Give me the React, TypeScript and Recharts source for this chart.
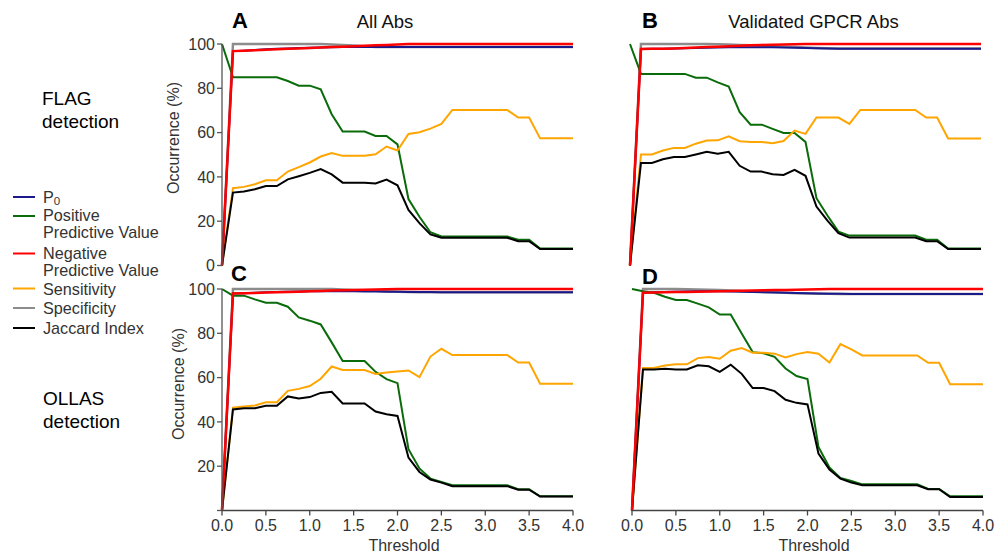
import React from "react";
import { LineChart, Line, XAxis, YAxis } from "recharts";

const thresholds = [0, 0.125, 0.25, 0.375, 0.5, 0.625, 0.75, 0.875, 1, 1.125, 1.25, 1.375, 1.5, 1.625, 1.75, 1.875, 2, 2.125, 2.25, 2.375, 2.5, 2.625, 2.75, 2.875, 3, 3.125, 3.25, 3.375, 3.5, 3.625, 3.75, 3.875, 4];
const xTicks = [0, 0.5, 1, 1.5, 2, 2.5, 3, 3.5, 4];
const yTicks = [0, 20, 40, 60, 80, 100];

// Panel A: FLAG detection, All Abs
const aP0 = [0, 96.8, 97.0, 97.3, 97.6, 97.8, 98.0, 98.2, 98.3, 98.4, 98.5, 98.6, 98.6, 98.6, 98.6, 98.6, 98.6, 98.6, 98.6, 98.6, 98.6, 98.6, 98.6, 98.6, 98.6, 98.6, 98.6, 98.6, 98.6, 98.6, 98.6, 98.6, 98.6];
const aPpv = [100, 85, 85, 85, 85, 85, 83.3, 81.2, 81.2, 79.5, 68.3, 60.5, 60.5, 60.5, 58.5, 58.5, 54.7, 30, 22, 15, 13.1, 13.1, 13.1, 13.1, 13.1, 13.1, 13.1, 11.6, 11.6, 7.7, 7.7, 7.7, 7.7];
const aNpv = [0, 96.8, 97.0, 97.2, 97.4, 97.6, 97.8, 98.0, 98.2, 98.4, 98.6, 98.8, 99.0, 99.2, 99.4, 99.6, 99.8, 100, 100, 100, 100, 100, 100, 100, 100, 100, 100, 100, 100, 100, 100, 100, 100];
const aSens = [0, 34.9, 35.5, 36.7, 38.5, 38.5, 42.4, 44.4, 46.5, 49.2, 50.8, 49.5, 49.5, 49.5, 50.2, 53.7, 51.9, 59.4, 60.2, 61.8, 63.9, 70.2, 70.2, 70.2, 70.2, 70.2, 70.2, 66.8, 66.8, 57.4, 57.4, 57.4, 57.4];
const aSpec = [0, 100, 100, 100, 100, 100, 100, 100, 100, 100, 99.8, 99.6, 99.3, 99.0, 98.7, 98.6, 98.6, 98.6, 98.6, 98.6, 98.6, 98.6, 98.6, 98.6, 98.6, 98.6, 98.6, 98.6, 98.6, 98.6, 98.6, 98.6, 98.6];
const aJac = [0, 32.9, 33.4, 34.4, 35.9, 35.9, 38.9, 40.3, 41.8, 43.5, 41.1, 37.4, 37.4, 37.4, 37.0, 38.8, 36.2, 25.1, 19.1, 14.0, 12.5, 12.5, 12.5, 12.5, 12.5, 12.5, 12.5, 11.0, 11.0, 7.4, 7.4, 7.4, 7.4];

// Panel B: FLAG detection, Validated GPCR Abs
const bP0 = [0, 97.7, 97.8, 97.9, 98.0, 98.1, 98.2, 98.3, 98.4, 98.5, 98.5, 98.5, 98.5, 98.5, 98.4, 98.3, 98.2, 98.1, 98.0, 97.9, 97.9, 97.9, 97.9, 97.9, 97.9, 97.9, 97.9, 97.9, 97.9, 97.9, 97.9, 97.9, 97.9];
const bPpv = [100, 86.5, 86.5, 86.5, 86.5, 86.5, 84.8, 84.8, 82.7, 80.8, 69.2, 63.6, 63.6, 61.7, 59.8, 59.8, 55.8, 30.4, 22.6, 15.3, 13.5, 13.5, 13.5, 13.5, 13.5, 13.5, 13.5, 11.6, 11.6, 7.7, 7.7, 7.7, 7.7];
const bNpv = [0, 97.7, 97.8, 97.9, 98.0, 98.2, 98.4, 98.6, 98.8, 99.0, 99.2, 99.4, 99.6, 99.7, 99.8, 99.9, 100, 100, 100, 100, 100, 100, 100, 100, 100, 100, 100, 100, 100, 100, 100, 100, 100];
const bSens = [0, 50.1, 50.1, 51.9, 53.1, 53.1, 55.0, 56.4, 56.5, 58.3, 56.1, 55.8, 55.8, 55.2, 56.2, 60.9, 59.4, 66.8, 66.8, 66.8, 63.9, 70.2, 70.2, 70.2, 70.2, 70.2, 70.2, 66.8, 66.8, 57.3, 57.3, 57.3, 57.3];
const bSpec = [0, 100, 100, 100, 100, 100, 100, 100, 99.9, 99.8, 99.6, 99.4, 99.2, 99.0, 98.8, 98.6, 98.4, 98.2, 98.1, 98.0, 98.0, 98.0, 98.0, 98.0, 98.0, 98.0, 98.0, 98.0, 98.0, 98.0, 98.0, 98.0, 98.0];
const bJac = [0, 46.3, 46.3, 48.0, 49.0, 49.0, 50.1, 51.3, 50.5, 51.3, 45.0, 42.4, 42.4, 41.2, 40.9, 43.2, 40.5, 26.6, 20.3, 14.6, 12.6, 12.6, 12.6, 12.6, 12.6, 12.6, 12.6, 11.0, 11.0, 7.4, 7.4, 7.4, 7.4];

// Panel C: OLLAS detection, All Abs
const cP0 = [0, 98.0, 98.1, 98.3, 98.5, 98.7, 98.8, 98.9, 99.0, 99.0, 99.0, 99.0, 99.0, 98.9, 98.9, 98.8, 98.8, 98.7, 98.6, 98.6, 98.5, 98.5, 98.5, 98.5, 98.5, 98.5, 98.5, 98.5, 98.5, 98.5, 98.5, 98.5, 98.5];
const cPpv = [100, 97.0, 97.0, 95.3, 93.8, 93.8, 92.0, 87.2, 85.7, 84.0, 75.9, 67.5, 67.5, 67.5, 62.6, 59.3, 57.5, 27.7, 19.0, 14.4, 12.9, 11.4, 11.4, 11.4, 11.4, 11.4, 11.4, 9.6, 9.6, 6.4, 6.4, 6.4, 6.4];
const cNpv = [0, 98.0, 98.1, 98.2, 98.4, 98.5, 98.7, 98.8, 99.0, 99.1, 99.3, 99.4, 99.6, 99.7, 99.8, 99.9, 100, 100, 100, 100, 100, 100, 100, 100, 100, 100, 100, 100, 100, 100, 100, 100, 100];
const cSens = [0, 46.4, 47.0, 47.4, 48.9, 48.9, 54.0, 54.9, 56.2, 59.5, 65.0, 63.4, 63.4, 63.4, 61.6, 62.3, 62.8, 63.2, 60.2, 69.5, 73.0, 70.2, 70.2, 70.2, 70.2, 70.2, 70.2, 66.8, 66.8, 57.2, 57.2, 57.2, 57.2];
const cSpec = [0, 100, 100, 100, 100, 100, 100, 100, 100, 100, 100, 99.8, 99.6, 99.4, 99.2, 99.0, 98.8, 98.6, 98.5, 98.5, 98.5, 98.5, 98.5, 98.5, 98.5, 98.5, 98.5, 98.5, 98.5, 98.5, 98.5, 98.5, 98.5];
const cJac = [0, 45.6, 46.2, 46.2, 47.3, 47.3, 51.5, 50.6, 51.2, 53.1, 53.6, 48.3, 48.3, 48.3, 44.7, 43.5, 42.7, 23.9, 17.4, 14.0, 12.6, 11.0, 11.0, 11.0, 11.0, 11.0, 11.0, 9.4, 9.4, 6.3, 6.3, 6.3, 6.3];

// Panel D: OLLAS detection, Validated GPCR Abs
const dP0 = [0, 98.3, 98.5, 98.7, 98.8, 98.9, 99.0, 99.0, 99.0, 98.9, 98.8, 98.6, 98.5, 98.4, 98.3, 98.2, 98.1, 98.0, 97.9, 97.8, 97.7, 97.7, 97.7, 97.7, 97.7, 97.7, 97.7, 97.7, 97.7, 97.7, 97.7, 97.7, 97.7];
const dPpv = [100, 99.0, 98.3, 96.5, 95.0, 95.0, 93.4, 91.7, 88.5, 88.5, 79.9, 71.5, 71.0, 69.4, 64.1, 60.7, 59.3, 28.7, 19.4, 14.7, 13.3, 11.8, 11.8, 11.8, 11.8, 11.8, 11.8, 9.7, 9.7, 6.4, 6.4, 6.4, 6.4];
const dNpv = [0, 98.3, 98.4, 98.5, 98.6, 98.7, 98.8, 98.9, 99.0, 99.1, 99.2, 99.3, 99.4, 99.5, 99.6, 99.7, 99.8, 99.9, 100, 100, 100, 100, 100, 100, 100, 100, 100, 100, 100, 100, 100, 100, 100];
const dSens = [0, 64.3, 64.3, 65.5, 66.0, 66.0, 68.8, 69.3, 68.5, 72.1, 73.3, 71.2, 71.2, 70.8, 69.1, 70.6, 71.5, 70.8, 66.8, 75.1, 72.7, 70.0, 70.0, 70.0, 70.0, 70.0, 70.0, 66.7, 66.7, 57.0, 57.0, 57.0, 57.0];
const dSpec = [0, 100, 100, 100, 100, 99.9, 99.8, 99.7, 99.5, 99.3, 99.1, 98.9, 98.7, 98.5, 98.3, 98.1, 98.0, 97.9, 97.8, 97.7, 97.7, 97.7, 97.7, 97.7, 97.7, 97.7, 97.7, 97.7, 97.7, 97.7, 97.7, 97.7, 97.7];
const dJac = [0, 63.7, 63.7, 64.0, 63.7, 63.7, 65.6, 65.1, 62.6, 65.8, 61.7, 55.3, 55.3, 53.9, 50.0, 48.6, 47.9, 25.7, 18.5, 14.4, 12.6, 11.4, 11.4, 11.4, 11.4, 11.4, 11.4, 9.6, 9.6, 6.1, 6.1, 6.1, 6.1];

const legendLabels = ["P0", "Positive Predictive Value", "Negative Predictive Value", "Sensitivity", "Specificity", "Jaccard Index"];
const colors = { p0: "#1a1a8c", ppv: "#0a6b0a", npv: "#ff0000", sens: "#ffa500", spec: "#8c8c8c", jac: "#000000" };

const FONT = "'Liberation Sans', Arial, Helvetica, sans-serif";
const TXT = "#333";

function build(p0: number[], ppv: number[], npv: number[], sens: number[], spec: number[], jac: number[]) {
  return thresholds.map((t, i) => ({ t, p0: p0[i], ppv: ppv[i], npv: npv[i], sens: sens[i], spec: spec[i], jac: jac[i] }));
}

const PW = 351;
const PH = 221.5;

function Panel(props: { left: number; top: number; data: any[]; showY: boolean; showX: boolean; hideZero?: boolean }) {
  const { left, top, data, showY, showX, hideZero } = props;
  const yW = 70;
  const mTop = 10;
  const mRight = 12;
  const xH = showX ? 40 : 0;
  const mBottom = showX ? 0 : 10;
  const width = yW + PW + mRight;
  const height = mTop + PH + xH + mBottom;
  const tickStyle = { fontSize: 16, fill: TXT, fontFamily: FONT };
  return (
    <div style={{ position: "absolute", left: left - yW, top: top - mTop, width, height }}>
      <LineChart width={width} height={height} data={data} margin={{ top: mTop, right: mRight, bottom: mBottom, left: showY ? 0 : yW }}>
        <XAxis
          dataKey="t"
          type="number"
          domain={[0, 4]}
          ticks={xTicks}
          hide={!showX}
          height={xH}
          tickFormatter={(v: number) => v.toFixed(1)}
          tick={tickStyle}
          tickSize={5}
          tickMargin={4}
          stroke="#444"
          strokeWidth={1.3}
          interval={0}
        />
        <YAxis
          type="number"
          domain={[0, 100]}
          ticks={yTicks}
          hide={!showY}
          width={yW}
          tick={tickStyle}
          tickSize={5}
          tickMargin={2}
          stroke="#555"
          strokeWidth={1.3}
          interval={0}
          tickFormatter={(v: number) => (hideZero && v === 0 ? "" : String(v))}
        />
        <Line type="linear" dataKey="spec" stroke={colors.spec} strokeWidth={2.5} dot={false} isAnimationActive={false} />
        <Line type="linear" dataKey="p0" stroke={colors.p0} strokeWidth={2} dot={false} isAnimationActive={false} />
        <Line type="linear" dataKey="ppv" stroke={colors.ppv} strokeWidth={2} dot={false} isAnimationActive={false} />
        <Line type="linear" dataKey="sens" stroke={colors.sens} strokeWidth={2} dot={false} isAnimationActive={false} />
        <Line type="linear" dataKey="jac" stroke={colors.jac} strokeWidth={2} dot={false} isAnimationActive={false} />
        <Line type="linear" dataKey="npv" stroke={colors.npv} strokeWidth={2.5} dot={false} isAnimationActive={false} />
      </LineChart>
    </div>
  );
}

export default function App() {
  const dataA = build(aP0, aPpv, aNpv, aSens, aSpec, aJac);
  const dataB = build(bP0, bPpv, bNpv, bSens, bSpec, bJac);
  const dataC = build(cP0, cPpv, cNpv, cSens, cSpec, cJac);
  const dataD = build(dP0, dPpv, dNpv, dSens, dSpec, dJac);
  const legendColors = [colors.p0, colors.ppv, colors.npv, colors.sens, colors.spec, colors.jac];
  const legendLineY = [197, 216, 253.5, 288.5, 308, 328];
  const LF = 16.2;
  return (
    <div style={{ position: "absolute", left: 0, top: 0, width: 998, height: 554, background: "#fff", overflow: "hidden", fontFamily: FONT }}>
      <Panel left={221.5} top={44} data={dataA} showY={true} showX={false} />
      <Panel left={630} top={43.5} data={dataB} showY={false} showX={false} />
      <Panel left={222} top={289} data={dataC} showY={true} showX={true} hideZero={true} />
      <Panel left={631.5} top={289} data={dataD} showY={false} showX={true} />
      <svg width={998} height={554} style={{ position: "absolute", left: 0, top: 0, pointerEvents: "none" }} fontFamily={FONT}>
        <text x={232} y={28} fontSize={22} fontWeight="bold" fill="#000">A</text>
        <text x={385} y={28} fontSize={18.5} fill="#111" textAnchor="middle">All Abs</text>
        <text x={642} y={28} fontSize={22} fontWeight="bold" fill="#000">B</text>
        <text x={813.5} y={28} fontSize={18.5} fill="#111" textAnchor="middle">Validated GPCR Abs</text>
        <text x={231} y={281} fontSize={22} fontWeight="bold" fill="#000">C</text>
        <text x={642} y={284} fontSize={22} fontWeight="bold" fill="#000">D</text>

        <text x={173} y={138} fontSize={16} fill={TXT} textAnchor="middle" dominantBaseline="central" transform="rotate(-90 173 138)">Occurrence (%)</text>
        <text x={178} y={384} fontSize={16} fill={TXT} textAnchor="middle" dominantBaseline="central" transform="rotate(-90 178 384)">Occurrence (%)</text>
        <text x={404} y={551} fontSize={16} fill={TXT} textAnchor="middle">Threshold</text>
        <text x={814} y={551} fontSize={16} fill={TXT} textAnchor="middle">Threshold</text>

        <text x={42} y={105} fontSize={19} fill="#000">FLAG</text>
        <text x={42} y={128} fontSize={19} fill="#000">detection</text>
        <text x={43} y={405} fontSize={19} fill="#000">OLLAS</text>
        <text x={43} y={428} fontSize={19} fill="#000">detection</text>

        {legendLineY.map((y, i) => (
          <line key={i} x1={13} x2={35} y1={y} y2={y} stroke={legendColors[i]} strokeWidth={2} />
        ))}
        <text x={43} y={202.5} fontSize={LF} fill={TXT}>
          {legendLabels[0].charAt(0)}
          <tspan fontSize={11.5} dy={2}>{legendLabels[0].charAt(1)}</tspan>
        </text>
        <text x={43} y={221} fontSize={LF} fill={TXT}>Positive</text>
        <text x={43} y={238} fontSize={LF} fill={TXT}>Predictive Value</text>
        <text x={43} y={258.5} fontSize={LF} fill={TXT}>Negative</text>
        <text x={43} y={275.5} fontSize={LF} fill={TXT}>Predictive Value</text>
        <text x={43} y={294.5} fontSize={LF} fill={TXT}>{legendLabels[3]}</text>
        <text x={43} y={313.5} fontSize={LF} fill={TXT}>{legendLabels[4]}</text>
        <text x={43} y={333.5} fontSize={LF} fill={TXT}>{legendLabels[5]}</text>
      </svg>
    </div>
  );
}
